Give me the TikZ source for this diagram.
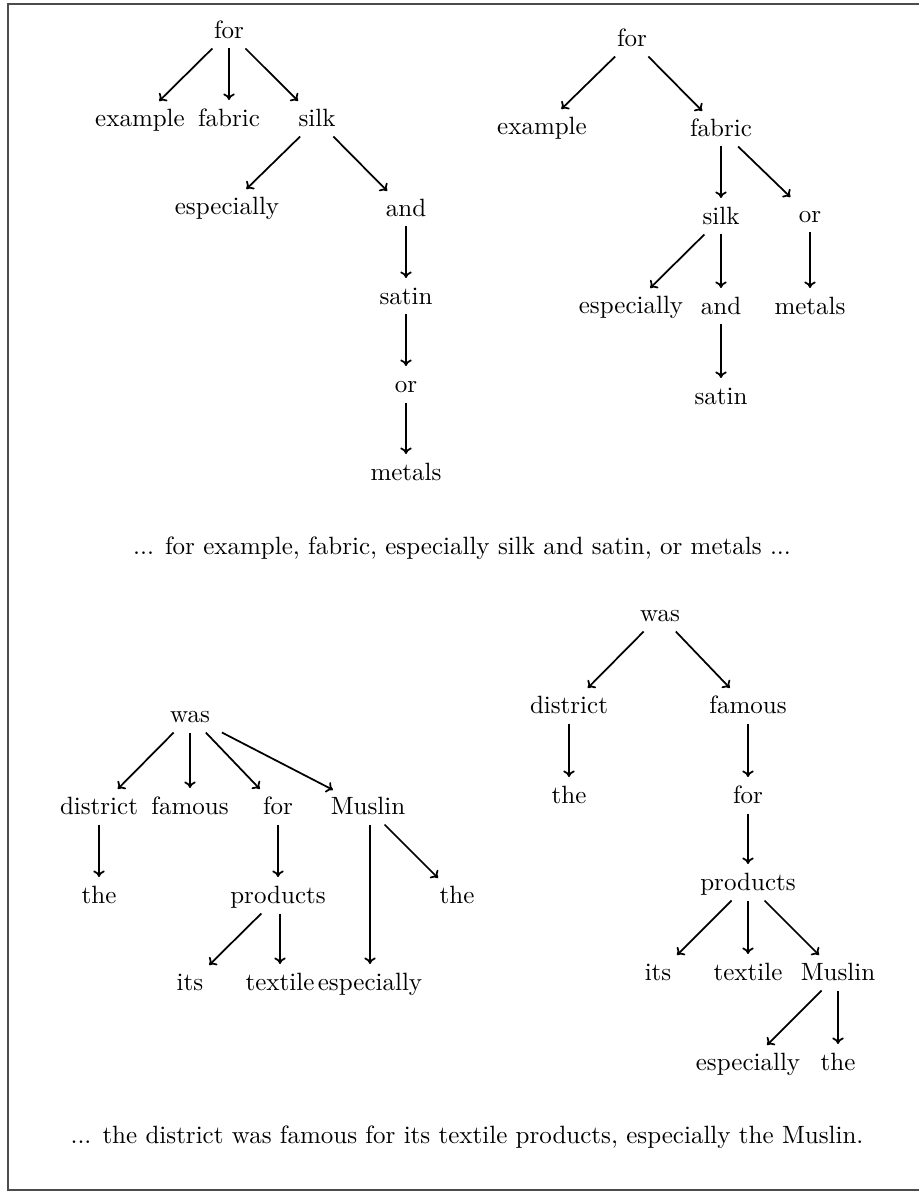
\documentclass[tikz,border=0pt]{standalone}
\usetikzlibrary{arrows.meta}
\begin{document}
\begin{tikzpicture}[x=0.4pt,y=-0.4pt,
  w/.style={inner xsep=2pt,inner ysep=1.9pt,text height=7pt,text depth=2pt,minimum width=28pt,anchor=center},
  captext/.style={inner sep=0pt,anchor=center},
  arr/.style={-{Computer Modern Rightarrow[length=2.6pt,width=4.6pt]},line width=0.7pt,shorten >=1.4pt},
  frame/.style={draw=black!70,line width=0.55pt}]
\useasboundingbox (0,0) rectangle (919,1191);
\draw[frame] (919,4) -- (8,4) -- (8,1190) -- (919,1190);
% Tree 1
\node[w] (a0) at (229,32) {for};
\node[w] (a1) at (140,120) {example};
\node[w] (a2) at (229,120) {fabric};
\node[w] (a3) at (317,120) {silk};
\node[w] (a4) at (227,208) {especially};
\node[w] (a5) at (406,210) {and};
\node[w] (a6) at (406,298) {satin};
\node[w] (a7) at (406,386) {or};
\node[w] (a8) at (406,474) {metals};
\draw[arr] (a0) -- (a1);
\draw[arr] (a0) -- (a2);
\draw[arr] (a0) -- (a3);
\draw[arr] (a3) -- (a4);
\draw[arr] (a3) -- (a5);
\draw[arr] (a5) -- (a6);
\draw[arr] (a6) -- (a7);
\draw[arr] (a7) -- (a8);
% Tree 2
\node[w] (b0) at (632,40) {for};
\node[w] (b1) at (542,128) {example};
\node[w] (b2) at (721,130) {fabric};
\node[w] (b3) at (721,218) {silk};
\node[w] (b4) at (810,216) {or};
\node[w] (b5) at (631,307) {especially};
\node[w] (b6) at (721,308) {and};
\node[w] (b7) at (810,308) {metals};
\node[w] (b8) at (721,398) {satin};
\draw[arr] (b0) -- (b1);
\draw[arr] (b0) -- (b2);
\draw[arr] (b2) -- (b3);
\draw[arr] (b2) -- (b4);
\draw[arr] (b3) -- (b5);
\draw[arr] (b3) -- (b6);
\draw[arr] (b4) -- (b7);
\draw[arr] (b6) -- (b8);
\node[captext] (c1) at (462,548) {... for example, fabric, especially silk and satin, or metals ...};
% Tree 3
\node[w] (d0) at (190,716) {was};
\node[w] (d1) at (99,808) {district};
\node[w] (d2) at (190,808) {famous};
\node[w] (d3) at (278,808) {for};
\node[w] (d4) at (368,808) {Muslin};
\node[w] (d5) at (99,897) {the};
\node[w] (d6) at (278,897) {products};
\node[w] (d7) at (457,897) {the};
\node[w] (d8) at (190,984) {its};
\node[w] (d9) at (280,984) {textile};
\node[w] (d10) at (370,984) {especially};
\draw[arr] (d0) -- (d1);
\draw[arr] (d0) -- (d2);
\draw[arr] (d0) -- (d3);
\draw[arr] (d0) -- (d4);
\draw[arr] (d1) -- (d5);
\draw[arr] (d3) -- (d6);
\draw[arr] (d4) -- (d7);
\draw[arr] (d4.south -| d10) -- (d10);
\draw[arr] (d6) -- (d8);
\draw[arr] (d6.south -| d9) -- (d9);
% Tree 4
\node[w] (e0) at (660,615) {was};
\node[w] (e1) at (569,707) {district};
\node[w] (e2) at (748,707) {famous};
\node[w] (e3) at (569,797) {the};
\node[w] (e4) at (748,797) {for};
\node[w] (e5) at (748,884) {products};
\node[w] (e6) at (658,974) {its};
\node[w] (e7) at (748,974) {textile};
\node[w] (e8) at (838,974) {Muslin};
\node[w] (e9) at (748,1064) {especially};
\node[w] (e10) at (838,1064) {the};
\draw[arr] (e0) -- (e1);
\draw[arr] (e0) -- (e2);
\draw[arr] (e1) -- (e3);
\draw[arr] (e2) -- (e4);
\draw[arr] (e4) -- (e5);
\draw[arr] (e5) -- (e6);
\draw[arr] (e5) -- (e7);
\draw[arr] (e5) -- (e8);
\draw[arr] (e8) -- (e9);
\draw[arr] (e8) -- (e10);
\node[captext] (c2) at (467,1137) {... the district was famous for its textile products, especially the Muslin.};
\end{tikzpicture}
\end{document}
